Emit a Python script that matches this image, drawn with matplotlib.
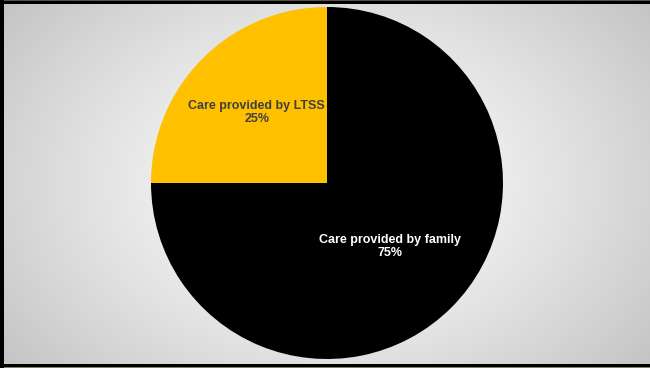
import numpy as np
import matplotlib
matplotlib.use("Agg")
import matplotlib.pyplot as plt
from matplotlib.patches import Rectangle

labels = ["Care provided by family", "Care provided by LTSS"]
values = [75, 25]
colors = ["#000000", "#FFC000"]
text_colors = ["#FFFFFF", "#404040"]
label_radius = [0.51, 0.565]

W, H = 650, 368
fig = plt.figure(figsize=(W / 100, H / 100), dpi=100)

# background radial gradient
bg = fig.add_axes([0, 0, 1, 1])
yy, xx = np.mgrid[0:H, 0:W]
cx, cy = 327, 183
d = np.sqrt(((xx - cx) / 420.0) ** 2 + ((yy - cy) / 300.0) ** 2)
d = np.clip(d, 0, 1)
g = 1.0 - 0.24 * d ** 1.3
img = np.dstack([g, g, g])
bg.imshow(img, extent=[0, W, H, 0], aspect="auto", interpolation="bilinear")
bg.set_xlim(0, W)
bg.set_ylim(H, 0)
bg.axis("off")
# frame
bg.add_patch(Rectangle((0, 0), W, 1, color="#5a5040", lw=0))
bg.add_patch(Rectangle((0, 1), W, 2.5, color="#000000", lw=0))
bg.add_patch(Rectangle((0, H - 1.2), W, 1.2, color="#8a7c60", lw=0))
bg.add_patch(Rectangle((0, H - 4.5), W, 3.3, color="#000000", lw=0))
bg.add_patch(Rectangle((0, 0), 4, H, color="#000000", lw=0))

# pie
r = 176
ax = fig.add_axes([(cx - r) / W, 1 - (cy + r) / H, 2 * r / W, 2 * r / H])
wedges, _ = ax.pie(values, colors=colors, startangle=90, counterclock=False,
                   wedgeprops=dict(linewidth=0))
ax.set_xlim(-1, 1)
ax.set_ylim(-1, 1)
ax.set_aspect("auto")
ax.axis("off")

total = sum(values)
start = 90.0
for lab, v, tc, rr in zip(labels, values, text_colors, label_radius):
    sweep = 360.0 * v / total
    mid = np.deg2rad(start - sweep / 2)
    start -= sweep
    ax.text(rr * np.cos(mid), rr * np.sin(mid), f"{lab}\n{v}%", ha="center", va="center",
            color=tc, fontsize=9, fontweight="bold", family="Liberation Sans",
            linespacing=1.1)

fig.savefig("out.png", dpi=100)
